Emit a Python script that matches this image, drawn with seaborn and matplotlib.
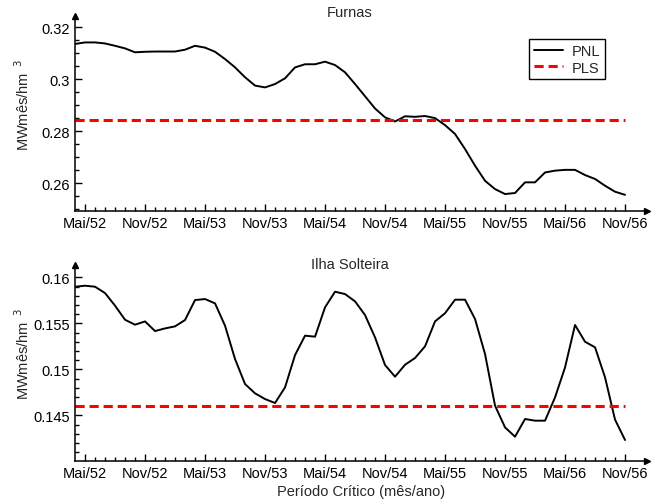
import matplotlib
matplotlib.use('Agg')
import matplotlib.pyplot as plt
import seaborn as sns
import numpy as np
import pandas as pd

# meses a partir de Abr/52 (-1) ate Nov/56 (54), Mai/52 = 0
meses = list(range(-1, 55))
tick_meses = list(range(0, 55, 6))
tick_labels = ['Mai/52', 'Nov/52', 'Mai/53', 'Nov/53', 'Mai/54', 'Nov/54',
               'Mai/55', 'Nov/55', 'Mai/56', 'Nov/56']

furnas_pnl = [0.3136, 0.3142, 0.3142, 0.3138, 0.3129, 0.3119, 0.3104, 0.3106,
              0.3107, 0.3107, 0.3107, 0.3114, 0.3129, 0.3122, 0.3106, 0.3078,
              0.3046, 0.3008, 0.2976, 0.2969, 0.2982, 0.3004, 0.3046, 0.3058,
              0.3058, 0.3068, 0.3055, 0.3027, 0.2982, 0.2935, 0.2888, 0.2854,
              0.2838, 0.2858, 0.2856, 0.2859, 0.2851, 0.2824, 0.2790, 0.2732,
              0.2668, 0.2610, 0.2578, 0.2559, 0.2563, 0.2604, 0.2604, 0.2642,
              0.2649, 0.2652, 0.2652, 0.2632, 0.2617, 0.2591, 0.2568, 0.2556]
furnas_pls = 0.2843

ilha_pnl = [0.15898, 0.15909, 0.15898, 0.15829, 0.15692, 0.15539, 0.15485, 0.15521,
            0.15416, 0.15445, 0.15467, 0.15536, 0.15753, 0.15764, 0.15717, 0.15474,
            0.15112, 0.14840, 0.14739, 0.14677, 0.14634, 0.14804, 0.15155, 0.15366,
            0.15355, 0.15674, 0.15844, 0.15818, 0.15739, 0.15590, 0.15347, 0.15047,
            0.14920, 0.15050, 0.15123, 0.15250, 0.15521, 0.15610, 0.15757, 0.15757,
            0.15547, 0.15166, 0.14605, 0.14369, 0.14268, 0.14460, 0.14442, 0.14442,
            0.14695, 0.15021, 0.15482, 0.15300, 0.15239, 0.14913, 0.14453, 0.14232]
ilha_pls = 0.1460

sns.set_style('ticks')
plt.rcParams['font.family'] = ['Liberation Sans', 'DejaVu Sans']
plt.rcParams['font.size'] = 10.5

fig = plt.figure(figsize=(6.64, 5.02), dpi=100)
ax1 = fig.add_axes([0.113, 0.5783, 0.861, 0.3878])
ax2 = fig.add_axes([0.113, 0.0803, 0.861, 0.3898])

paineis = [
    (ax1, furnas_pnl, furnas_pls, 'Furnas', (0.2495, 0.32435), 0.02, 0.005, 1.02),
    (ax2, ilha_pnl, ilha_pls, 'Ilha Solteira', (0.14007, 0.16134), 0.005, 0.001, 1.005),
]

for ax, pnl, pls, titulo, ylim, major, minor, ty in paineis:
    df = pd.DataFrame({'mes': meses, 'PNL': pnl, 'PLS': [pls] * len(meses)})
    sns.lineplot(data=df, x='mes', y='PNL', ax=ax, color='black', lw=1.4, label='PNL')
    sns.lineplot(data=df, x='mes', y='PLS', ax=ax, color='red', lw=2.2,
                 linestyle=(0, (3, 1.6)), label='PLS')
    ax.set_xlim(-1, 56.17)
    ax.set_ylim(*ylim)
    ax.set_xticks(tick_meses)
    ax.set_xticklabels(tick_labels)
    ax.set_xticks([m for m in range(1, 54) if m % 6 != 0], minor=True)
    yt = np.arange(np.ceil(ylim[0] / major) * major, ylim[1], major)
    ax.set_yticks(yt)
    ax.set_yticklabels(['%g' % round(v, 4) for v in yt])
    ax.set_yticks(np.arange(np.ceil(ylim[0] / minor) * minor, ylim[1] - minor * 0.5, minor), minor=True)
    ax.tick_params(which='both', direction='in', colors='black', labelsize=10.5)
    ax.tick_params(which='major', length=5, width=1)
    ax.tick_params(which='minor', length=3, width=1)
    sns.despine(ax=ax)
    for s in ['left', 'bottom']:
        ax.spines[s].set_linewidth(1.1)
        ax.spines[s].set_color('black')
    ax.plot(1, 0, '>', color='black', ms=5, transform=ax.transAxes, clip_on=False)
    ax.plot(0, 1, '^', color='black', ms=5, transform=ax.transAxes, clip_on=False)
    ax.set_xlabel('')
    ax.set_ylabel('MWmês/hm$^{\\ \\ 3}$', fontsize=10.5)
    ax.yaxis.set_label_coords(-0.076, 0.55)
    ax.text(0.481, ty, titulo, transform=ax.transAxes, ha='center', va='center', fontsize=10.5)
    ax.get_legend().remove()

leg = ax1.legend(loc='upper right', bbox_to_anchor=(0.939, 0.918), fancybox=False,
                 edgecolor='black', framealpha=1, handlelength=2.0, handletextpad=0.6,
                 labelspacing=0.2, borderpad=0.3, fontsize=10.5)
leg.get_frame().set_linewidth(1.0)

ax2.set_xlabel('Período Crítico (mês/ano)', fontsize=10.5, labelpad=3)

fig.savefig('out.png', dpi=100)
